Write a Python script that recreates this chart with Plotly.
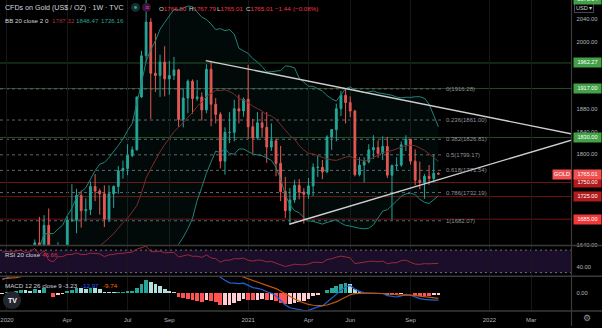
import numpy as np
import pandas as pd
import plotly.graph_objects as go

W, H = 602, 328
FONT = "Liberation Sans, Arial, sans-serif"

# ------------------------------------------------------------------ data
# weekly closes of 2019 (weeks starting 2019-01-07 .. 2019-12-23), only used to warm up indicators
WARMUP_CLOSE = [1289, 1282, 1304, 1318, 1314, 1322, 1328, 1294, 1299, 1302, 1313, 1292,
                1291, 1290, 1276, 1286, 1279, 1286, 1276, 1284, 1305, 1341, 1341, 1399,
                1409, 1400, 1415, 1426, 1419, 1440, 1497, 1513, 1527, 1520, 1507, 1488,
                1517, 1497, 1505, 1489, 1490, 1505, 1514, 1459, 1468, 1462, 1463, 1460,
                1476, 1478, 1511]
FIRST_WEEK = "2019-12-30"
OPEN = [1517, 1552, 1562, 1557, 1571, 1589, 1570, 1584, 1643, 1585,
        1674, 1530, 1498, 1617, 1620, 1683, 1683, 1727, 1700, 1702,
        1743, 1735, 1730, 1685, 1730, 1743, 1771, 1775, 1798, 1808,
        1902, 1975, 2035, 1944, 1940, 1964, 1934, 1940, 1950, 1862,
        1900, 1930, 1899, 1902, 1879, 1951, 1889, 1871, 1788, 1839,
        1839, 1881, 1877, 1898, 1849, 1829, 1856, 1848, 1813, 1824,
        1784, 1734, 1700, 1719, 1745, 1733, 1729, 1744, 1777, 1777,
        1769, 1831, 1844, 1881, 1905, 1892, 1877, 1764, 1781, 1787,
        1808, 1812, 1802, 1814, 1763, 1780, 1781, 1817, 1827, 1788,
        1754, 1750, 1761, 1757, 1766.50]
HIGH = [1553, 1611, 1563, 1575, 1591, 1590, 1585, 1649, 1689, 1692,
        1704, 1545, 1644, 1634, 1690, 1747, 1739, 1736, 1722, 1752,
        1765, 1739, 1745, 1745, 1745, 1779, 1789, 1818, 1814, 1902,
        1984, 2075, 2042, 2015, 1977, 1992, 1966, 1973, 1952, 1917,
        1933, 1933, 1932, 1910, 1960, 1966, 1900, 1875, 1848, 1875,
        1897, 1906, 1901, 1959, 1863, 1875, 1875, 1875, 1855, 1828,
        1815, 1760, 1740, 1755, 1756, 1740, 1758, 1784, 1798, 1790,
        1834, 1845, 1890, 1913, 1916, 1903, 1879, 1795, 1795, 1818,
        1834, 1825, 1832, 1831, 1782, 1795, 1823, 1834, 1827, 1809,
        1787, 1765, 1781, 1800, 1767.79]
LOW = [1514, 1536, 1536, 1546, 1563, 1547, 1562, 1581, 1563, 1576,
       1504, 1451, 1485, 1567, 1615, 1680, 1660, 1670, 1683, 1692,
       1717, 1693, 1671, 1680, 1705, 1730, 1757, 1763, 1795, 1807,
       1900, 1963, 1863, 1911, 1902, 1903, 1906, 1932, 1849, 1848,
       1873, 1872, 1895, 1860, 1873, 1850, 1855, 1775, 1764, 1820,
       1823, 1855, 1867, 1827, 1802, 1826, 1831, 1785, 1806, 1761,
       1717, 1687, 1676, 1714, 1720, 1677, 1721, 1726, 1760, 1756,
       1767, 1808, 1823, 1868, 1855, 1866, 1761, 1761, 1750, 1784,
       1792, 1794, 1790, 1758, 1684, 1772, 1778, 1806, 1782, 1745,
       1738, 1721, 1746, 1750, 1765.01]
CLOSE = [1552, 1562, 1557, 1571, 1589, 1570, 1584, 1643, 1585, 1674,
         1530, 1498, 1617, 1620, 1683, 1683, 1727, 1700, 1702, 1743,
         1735, 1730, 1685, 1730, 1743, 1771, 1775, 1798, 1808, 1902,
         1975, 2035, 1944, 1940, 1964, 1934, 1940, 1950, 1862, 1900,
         1930, 1899, 1902, 1879, 1951, 1889, 1871, 1788, 1839, 1839,
         1881, 1877, 1898, 1849, 1829, 1856, 1848, 1813, 1824, 1784,
         1734, 1700, 1719, 1745, 1733, 1729, 1744, 1777, 1777, 1769,
         1831, 1844, 1881, 1905, 1892, 1877, 1764, 1781, 1787, 1808,
         1812, 1802, 1814, 1763, 1780, 1781, 1817, 1827, 1788, 1754,
         1750, 1761, 1757, 1766.45, 1765.01]

GREEN_LEVELS = [2075.14, 1962.27, 1917.00, 1830.00]
RED_LEVELS = [1750.00, 1725.00, 1685.00]
FIB_RATIOS = ["0", "0.236", "0.382", "0.5", "0.618", "0.786", "1"]
FIB_PRICES = [1916.28, 1861.00, 1826.81, 1799.17, 1771.54, 1732.19, 1682.07]
FIB_END = "2021-10-25"
TREND_DOWN_DATES = ["2020-11-01", "2022-05-08"]
TREND_DOWN_PRICES = [1966.5, 1836.2]
TREND_UP_DATES = ["2021-03-07", "2022-05-08"]
TREND_UP_PRICES = [1676.0, 1825.8]

# price ticks that are not covered by a level box
PRICE_TICKS = [2040, 2000, 1880, 1840, 1800, 1640]
DATE_TICKS = ["2020-01-06", "2020-04-06", "2020-07-06", "2020-09-07", "2021-01-04",
              "2021-04-05", "2021-06-07", "2021-09-06", "2022-01-03", "2022-03-07"]
DATE_LABELS = ["2020", "Apr", "Jul", "Sep", "2021", "Apr", "Jun", "Sep", "2022", "Mar"]

TITLE = "CFDs on Gold (US$ / OZ) · 1W · TVC"
CHANGE = ["−1.44", "(−0.08%)"]
BB_LEGEND = ["1787.32", "1848.47", "1726.16"]
RSI_LEGEND = "46.66"
MACD_LEGEND = ["-3.23", "-12.97", "-9.74"]

# ------------------------------------------------------------------ indicators
n0 = len(WARMUP_CLOSE)
s = pd.Series(WARMUP_CLOSE + CLOSE, dtype=float)
basis = s.rolling(20).mean()
sd = s.rolling(20).std(ddof=0)
upper = (basis + 2 * sd).iloc[n0:].values
lower = (basis - 2 * sd).iloc[n0:].values
basis = basis.iloc[n0:].values
d = s.diff()
au = d.clip(lower=0).ewm(alpha=1 / 20, adjust=False).mean()
ad = (-d).clip(lower=0).ewm(alpha=1 / 20, adjust=False).mean()
rsi = (100 - 100 / (1 + au / ad)).iloc[n0:].values
macd = s.ewm(span=12, adjust=False).mean() - s.ewm(span=26, adjust=False).mean()
sig = macd.ewm(span=9, adjust=False).mean()
hist_full = (macd - sig)
hist = hist_full.iloc[n0:].values
hprev = hist_full.shift(1).iloc[n0:].values
macd = macd.iloc[n0:].values
sig = sig.iloc[n0:].values
hcol = []
for h, p in zip(hist, hprev):
    if h >= 0:
        hcol.append("#26a69a" if h > p else "#b2dfdb")
    else:
        hcol.append("#ffcdd2" if h > p else "#ff5252")

dates = pd.date_range(FIRST_WEEK, periods=len(CLOSE), freq="7D")
t0 = pd.Timestamp("2020-01-06")
xr = [str(t0 + pd.Timedelta(days=7 * -1.5)), str(t0 + pd.Timedelta(days=7 * 121.7))]

# ------------------------------------------------------------------ layout geometry (px)
XD = 571.5 / W
def py2p(py):
    return 1 - py / H
DOM_MAIN = [py2p(247), 1.0]
DOM_RSI = [py2p(278), py2p(247)]
DOM_MACD = [py2p(313), py2p(278)]
YR_MAIN = [1638.2, 2074.1]
YR_RSI = [23.5, 78.3]
YR_MACD = [-33.4, 31.5]

fig = go.Figure()
nh = dict(hoverinfo="skip", showlegend=False)

# Bollinger bands
fig.add_trace(go.Scatter(x=dates, y=lower, mode="lines", line=dict(color="#1f8479", width=1), **nh))
fig.add_trace(go.Scatter(x=dates, y=upper, mode="lines", line=dict(color="#1f8479", width=1),
                         fill="tonexty", fillcolor="rgba(38,166,154,0.06)", **nh))
fig.add_trace(go.Scatter(x=dates, y=basis, mode="lines", line=dict(color="#7e2a2a", width=1), **nh))

# candles
fig.add_trace(go.Candlestick(
    x=dates, open=OPEN, high=HIGH, low=LOW, close=CLOSE,
    increasing=dict(line=dict(color="#26a69a", width=1), fillcolor="#26a69a"),
    decreasing=dict(line=dict(color="#ef5350", width=1), fillcolor="#ef5350"),
    whiskerwidth=0, hoverinfo="skip", showlegend=False))

# trend lines
fig.add_trace(go.Scatter(x=TREND_DOWN_DATES, y=TREND_DOWN_PRICES, mode="lines",
                         line=dict(color="#cfcfcf", width=1.4), **nh))
fig.add_trace(go.Scatter(x=TREND_UP_DATES, y=TREND_UP_PRICES, mode="lines",
                         line=dict(color="#cfcfcf", width=1.4), **nh))

# RSI
fig.add_trace(go.Scatter(x=dates, y=rsi, mode="lines", line=dict(color="#9a2a3c", width=1),
                         xaxis="x2", yaxis="y2", **nh))

# MACD
fig.add_trace(go.Bar(x=dates, y=hist, marker=dict(color=hcol, line=dict(width=0)),
                     width=7 * 0.8 * 86400000, xaxis="x3", yaxis="y3", **nh))
fig.add_trace(go.Scatter(x=dates, y=macd, mode="lines", line=dict(color="#1f63d6", width=1.2),
                         xaxis="x3", yaxis="y3", **nh))
fig.add_trace(go.Scatter(x=dates, y=sig, mode="lines", line=dict(color="#c2570c", width=1.2),
                         xaxis="x3", yaxis="y3", **nh))

shapes = []
# RSI band
shapes.append(dict(type="rect", xref="paper", yref="y2", x0=0, x1=XD, y0=30, y1=70,
                   fillcolor="#1b0e2a", line=dict(width=0), layer="below"))
for lv in (70, 30):
    shapes.append(dict(type="line", xref="paper", yref="y2", x0=0, x1=XD, y0=lv, y1=lv,
                       line=dict(color="#6f7280", width=1, dash="2px,3px"), layer="below"))
# horizontal levels
for lv in GREEN_LEVELS:
    shapes.append(dict(type="line", xref="paper", yref="y", x0=0, x1=XD, y0=lv, y1=lv,
                       line=dict(color="rgba(76,175,80,0.45)", width=1), layer="below"))
for lv in RED_LEVELS:
    shapes.append(dict(type="line", xref="paper", yref="y", x0=0, x1=XD, y0=lv, y1=lv,
                       line=dict(color="rgba(200,40,40,0.55)", width=1), layer="below"))
for lv in FIB_PRICES:
    shapes.append(dict(type="line", xref="x", yref="y", x0=xr[0], x1=FIB_END, y0=lv, y1=lv,
                       line=dict(color="#62656d", width=1, dash="3px,3px"), layer="below"))
# pane separators
for py in (247, 278, 313):
    shapes.append(dict(type="line", xref="paper", yref="paper", x0=0, x1=1, y0=py2p(py), y1=py2p(py),
                       line=dict(color="#3a3a3a", width=1.5), layer="above"))
shapes.append(dict(type="line", xref="paper", yref="paper", x0=XD, x1=XD, y0=0, y1=1,
                   line=dict(color="#3a3a3a", width=1.2), layer="above"))
# TV logo + legend icons
shapes.append(dict(type="circle", xref="paper", yref="paper", x0=3 / W, x1=21 / W,
                   y0=py2p(311), y1=py2p(293), fillcolor="#23262e", line=dict(width=0), layer="above"))
shapes.append(dict(type="circle", xref="paper", yref="paper", x0=131 / W, x1=140 / W,
                   y0=py2p(12), y1=py2p(3), fillcolor="#17302d", line=dict(width=0), layer="above"))
shapes.append(dict(type="circle", xref="paper", yref="paper", x0=134 / W, x1=137 / W,
                   y0=py2p(9), y1=py2p(6), fillcolor="#26a69a", line=dict(width=0), layer="above"))
shapes.append(dict(type="circle", xref="paper", yref="paper", x0=142 / W, x1=151 / W,
                   y0=py2p(12), y1=py2p(3), fillcolor="#3a1630", line=dict(width=0), layer="above"))

anns = []
def A(px, py, text, size=6.2, color="#d1d4dc", xanchor="left", **kw):
    d = dict(x=px / W, y=py2p(py), xref="paper", yref="paper", text=text, showarrow=False,
             xanchor=xanchor, yanchor="middle", font=dict(size=size, color=color, family=FONT))
    d.update(kw)
    anns.append(d)

RED = "#f23645"
A(3, 8.3, TITLE, size=7.1)
A(146.5, 7.5, "≡", size=7, color="#e040fb", xanchor="center")
A(157, 8.3, "O<span style='color:%s'>%.2f</span>" % (RED, OPEN[-1]))
A(187, 8.3, "H<span style='color:%s'>%.2f</span>" % (RED, HIGH[-1]))
A(215, 8.3, "L<span style='color:%s'>%.2f</span>" % (RED, LOW[-1]))
A(244, 8.3, "C<span style='color:%s'>%.2f</span>" % (RED, CLOSE[-1]))
A(273, 8.3, CHANGE[0], color=RED)
A(291, 8.3, CHANGE[1], color=RED)
A(3, 20.7, "BB 20 close 2 0")
A(49.5, 20.7, BB_LEGEND[0], color="#a83236")
A(74, 20.7, BB_LEGEND[1], color="#26a69a")
A(99, 20.7, BB_LEGEND[2], color="#26a69a")
A(3, 256, "RSI 20 close")
A(40, 256, RSI_LEGEND, color="#d0384a")
A(3, 287.7, "MACD 12 26 close 9")
A(61, 287.7, MACD_LEGEND[0], color="#d1d4dc")
A(79, 287.7, MACD_LEGEND[1], color="#2962ff")
A(101, 287.7, MACD_LEGEND[2], color="#ff6d00")
A(12, 302, "<b>TV</b>", size=7, color="#ffffff", xanchor="center")
A(587, 320, "⚙", size=9, color="#9598a1", xanchor="center")
A(584, 8.5, "USD ▾", size=5.6, color="#d1d4dc", xanchor="center", bgcolor="#000000",
  bordercolor="#434651", borderwidth=1, borderpad=1)

# fib labels
for r, p in zip(FIB_RATIOS, FIB_PRICES):
    anns.append(dict(x=pd.Timestamp(FIB_END) + pd.Timedelta(days=2), y=p, xref="x", yref="y",
                     text="%s(%.2f)" % (r, p), showarrow=False, xanchor="left", yanchor="middle",
                     font=dict(size=6, color="#8f929a", family=FONT)))

# price boxes on right scale
def box(price, text, bg, x0=572.5, wbox=27):
    if YR_MAIN[0] <= price <= YR_MAIN[1]:
        yy, yref = price, "y"
    else:
        frac = (price - YR_MAIN[0]) / (YR_MAIN[1] - YR_MAIN[0])
        yy, yref = DOM_MAIN[0] + frac * (DOM_MAIN[1] - DOM_MAIN[0]), "paper"
    anns.append(dict(x=x0 / W, y=yy, xref="paper", yref=yref, text=text, showarrow=False,
                     xanchor="left", yanchor="middle", bgcolor=bg, width=wbox, height=8.5,
                     borderpad=0, align="center",
                     font=dict(size=5.6, color="#ffffff", family=FONT)))

for lv in GREEN_LEVELS:
    box(lv, "%.2f" % lv, "#43a047")
for lv, bg in zip(RED_LEVELS, ["#b11b1b", "#b11b1b", "#f03a3a"]):
    box(lv, "%.2f" % lv, bg)
box(CLOSE[-1], "%.2f" % CLOSE[-1], "#f0504f")
box(CLOSE[-1], "GOLD", "#f0504f", x0=552, wbox=18)

axis_common = dict(showline=False, zeroline=False, ticks="", range=xr, type="date",
                   tickvals=DATE_TICKS, ticktext=DATE_LABELS, showgrid=True,
                   gridcolor="#171717", gridwidth=1, domain=[0, XD])
yfont = dict(size=5.8, color="#b2b5be", family=FONT)
fig.update_layout(
    width=W, height=H, autosize=False,
    margin=dict(l=0, r=0, t=0, b=0, pad=0),
    paper_bgcolor="#000000", plot_bgcolor="#000000",
    showlegend=False, boxgap=0.45, bargap=0,
    xaxis=dict(anchor="y", showticklabels=False, rangeslider=dict(visible=False), **axis_common),
    xaxis2=dict(anchor="y2", showticklabels=False, matches="x", **axis_common),
    xaxis3=dict(anchor="y3", showticklabels=True, matches="x", ticklabelstandoff=4,
                tickfont=dict(size=6, color="#b2b5be", family=FONT), **axis_common),
    yaxis=dict(domain=DOM_MAIN, anchor="x", side="right", range=YR_MAIN, tickvals=PRICE_TICKS,
               ticktext=["%.2f" % v for v in PRICE_TICKS], showgrid=False, zeroline=False,
               ticks="", tickfont=yfont, ticklabelstandoff=4),
    yaxis2=dict(domain=DOM_RSI, anchor="x2", side="right", range=YR_RSI, tickvals=[40],
                ticktext=["40.00"], showgrid=False, zeroline=False, ticks="", tickfont=yfont,
                ticklabelstandoff=4),
    yaxis3=dict(domain=DOM_MACD, anchor="x3", side="right", range=YR_MACD, tickvals=[0],
                ticktext=["0.00"], showgrid=False, zeroline=False, ticks="", tickfont=yfont,
                ticklabelstandoff=4),
    shapes=shapes, annotations=anns,
)

fig.write_html("out.html", config={"displayModeBar": False, "staticPlot": True},
               post_script="document.body.style.margin='0';document.body.style.background='#000';")
